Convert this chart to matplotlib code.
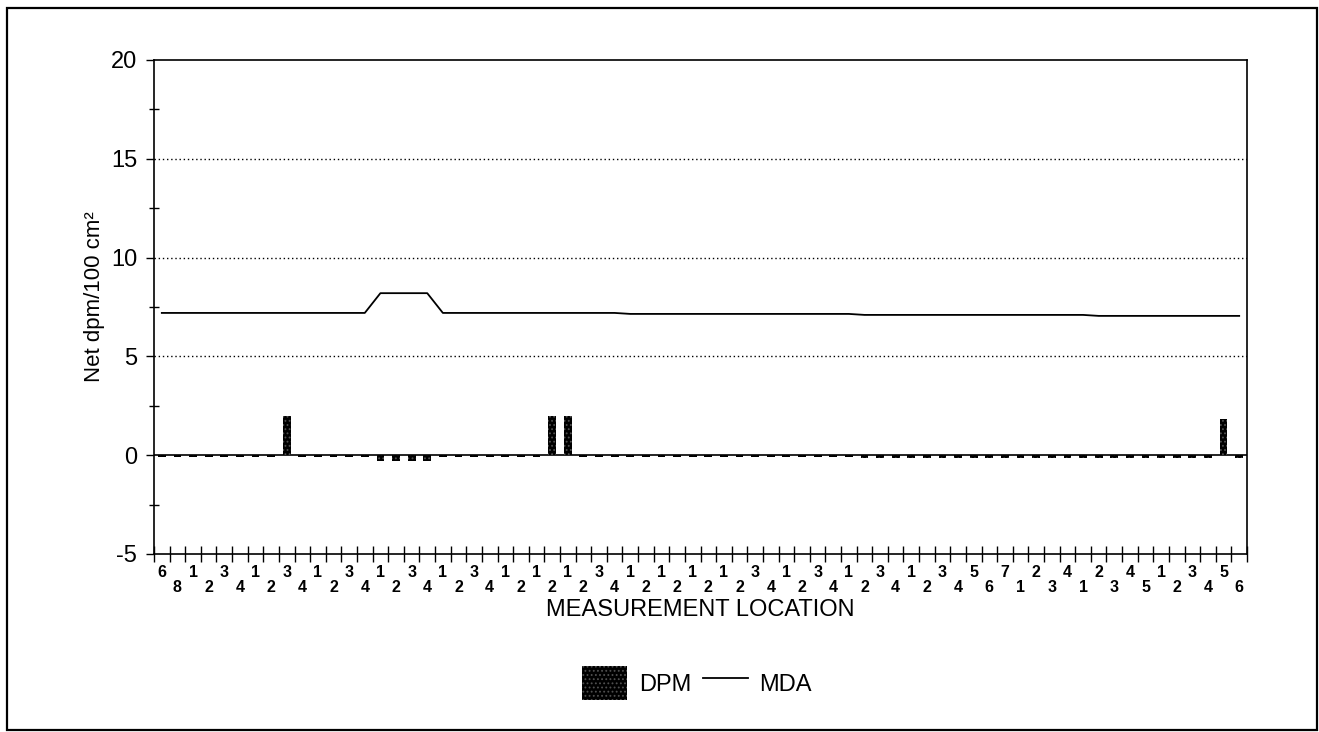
import numpy as np
import matplotlib
matplotlib.use('Agg')
import matplotlib.pyplot as plt
from matplotlib.patches import Rectangle
from matplotlib.ticker import FixedLocator, MultipleLocator

plt.rcParams['font.family'] = ['Liberation Sans', 'DejaVu Sans']
plt.rcParams['axes.unicode_minus'] = False

locations = ['6', '8',
             '1', '2', '3', '4', '1', '2', '3', '4', '1', '2', '3', '4',
             '1', '2', '3', '4', '1', '2', '3', '4',
             '1', '2', '1', '2', '1', '2', '3', '4',
             '1', '2', '1', '2', '1', '2', '1', '2', '3', '4',
             '1', '2', '3', '4', '1', '2', '3', '4',
             '1', '2', '3', '4', '5', '6', '7',
             '1', '2', '3', '4', '1', '2', '3', '4', '5',
             '1', '2', '3', '4', '5', '6']

# Net dpm/100 cm2 per location
dpm = [-0.1, -0.1, -0.1, -0.1, -0.1, -0.1, -0.1, -0.1, 2.0, -0.1,
       -0.1, -0.1, -0.1, -0.1, -0.3, -0.3, -0.3, -0.3, -0.1, -0.1,
       -0.1, -0.1, -0.1, -0.1, -0.1, 2.0, 2.0, -0.1, -0.1, -0.1,
       -0.1, -0.1, -0.1, -0.1, -0.1, -0.1, -0.1, -0.1, -0.1, -0.1,
       -0.1, -0.1, -0.1, -0.1, -0.1, -0.15, -0.15, -0.15, -0.15, -0.15,
       -0.15, -0.15, -0.15, -0.15, -0.15, -0.15, -0.15, -0.15, -0.15, -0.15,
       -0.15, -0.15, -0.15, -0.15, -0.15, -0.15, -0.15, -0.15, 1.85, -0.15]

# Minimum detectable activity per location
mda = [7.2, 7.2, 7.2, 7.2, 7.2, 7.2, 7.2, 7.2, 7.2, 7.2,
       7.2, 7.2, 7.2, 7.2, 8.2, 8.2, 8.2, 8.2, 7.2, 7.2,
       7.2, 7.2, 7.2, 7.2, 7.2, 7.2, 7.2, 7.2, 7.2, 7.2,
       7.15, 7.15, 7.15, 7.15, 7.15, 7.15, 7.15, 7.15, 7.15, 7.15,
       7.15, 7.15, 7.15, 7.15, 7.15, 7.1, 7.1, 7.1, 7.1, 7.1,
       7.1, 7.1, 7.1, 7.1, 7.1, 7.1, 7.1, 7.1, 7.1, 7.1,
       7.05, 7.05, 7.05, 7.05, 7.05, 7.05, 7.05, 7.05, 7.05, 7.05]

x = np.arange(len(locations))

fig = plt.figure(figsize=(13.19, 7.32), dpi=100)
ax = fig.add_axes([154/1319, 1 - 554/732, 1093/1319, 494/732])

plt.rcParams['hatch.linewidth'] = 0.8
bars = ax.bar(x, dpm, width=0.5, color='black', edgecolor='#505050',
              hatch='....', linewidth=0, label='DPM', zorder=3)
line, = ax.plot(x, mda, color='black', lw=1.3, label='MDA', zorder=4)
ax.axhline(0, color='black', lw=1.2, zorder=2)

ax.set_xlim(-0.5, len(locations) - 0.5)
ax.set_ylim(-5, 20)

# y axis
ax.yaxis.set_major_locator(MultipleLocator(5))
ax.yaxis.set_minor_locator(MultipleLocator(2.5))
ax.tick_params(axis='y', which='major', direction='out', length=6, width=1,
               labelsize=17, pad=6)
ax.tick_params(axis='y', which='minor', direction='inout', length=7, width=1)
for yv in [5, 10, 15]:
    ax.axhline(yv, color='black', lw=1, linestyle=(0, (1, 2)), zorder=1)

# x axis: labels on two staggered rows, ticks between locations
xlabels = [lab if i % 2 == 0 else '\n' + lab for i, lab in enumerate(locations)]
ax.set_xticks(x)
ax.set_xticklabels(xlabels, fontsize=11.5, fontweight='bold', linespacing=0.95)
ax.xaxis.set_minor_locator(FixedLocator(np.arange(len(locations) + 1) - 0.5))
ax.tick_params(axis='x', which='major', length=0, pad=8)
ax.tick_params(axis='x', which='minor', direction='inout', length=11, width=1)

for s in ax.spines.values():
    s.set_linewidth(1.2)

ax.set_ylabel('Net dpm/100 cm²', fontsize=16)
ax.yaxis.set_label_coords(-0.045, 0.52)
ax.set_xlabel('MEASUREMENT LOCATION', fontsize=17)
ax.xaxis.set_label_coords(0.5, -0.092)

fig.legend(handles=[bars, line], labels=['DPM', 'MDA'], loc='center',
           bbox_to_anchor=(697/1319, 1 - 683/732), ncol=2, frameon=False,
           fontsize=17, handlelength=1.9, handleheight=1.9,
           handletextpad=0.5, columnspacing=0.5)

# outer frame around the whole figure
fig.patches.append(Rectangle((7/1319, 2/732), 1310/1319, 722/732,
                             transform=fig.transFigure, fill=False,
                             edgecolor='black', lw=1.6))

fig.savefig('out.png', dpi=100)
